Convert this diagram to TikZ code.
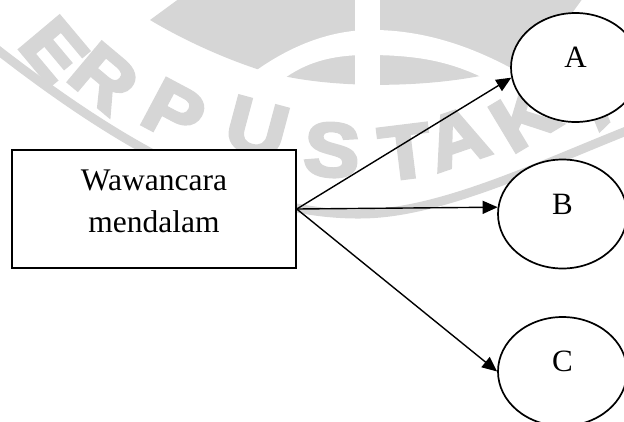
\documentclass[tikz,border=0pt]{standalone}
\usepackage{fontspec}
\setmainfont{Liberation Serif}
\newfontfamily\wmfont{Liberation Sans}[UprightFont=* Bold,FakeBold=4]
\usetikzlibrary{shapes.geometric,arrows.meta}
\definecolor{wm}{HTML}{D6D6D6}
\newcommand\wmwide[1]{\scalebox{1.1}[1]{#1}}
\tikzset{
  wmletter/.style={text=wm,font=\wmfont\fontsize{76}{76}\selectfont,inner sep=0pt},
  mainbox/.style={draw=black,line width=1.5pt,fill=white,minimum width=284pt,minimum height=118pt,inner sep=0pt,
     font=\fontsize{31.5}{42}\selectfont,text height=66pt,text depth=20pt},
  target/.style={ellipse,draw=black,line width=1.7pt,fill=white,minimum width=129pt,minimum height=109pt,inner sep=0pt,
     font=\fontsize{31}{36}\selectfont,text height=14pt,text depth=14pt},
  link/.style={line width=1.4pt,-{Triangle[length=15pt,width=13pt]}}
}
\begin{document}
\begin{tikzpicture}[x=1pt,y=-1pt]
\useasboundingbox (0,0) rectangle (624,421);
\begin{scope}
\clip (0,0) rectangle (624,421);
% logo lens
\fill[wm] (150,20) -- (180,-2) -- (583,-2) .. controls (560,30) .. (512,68)
   .. controls (450,88) and (330,92) .. (260,70) .. controls (220,57) and (180,38) .. (150,20) -- cycle;
% white arch
\fill[white] (250,75) .. controls (290,45) and (330,31) .. (367,30) .. controls (420,29) and (470,45) .. (518,72)
   -- (495,84) .. controls (455,62) and (420,55) .. (367,55) .. controls (330,55) and (305,63) .. (282,80) -- cycle;
\fill[white] (355,-2) rectangle (380,86);
% ring band
\draw[wm,line width=9pt] (-10,44) .. controls (100,130) and (230,215) .. (360,214) .. controls (440,214) and (540,165) .. (634,128);
% letters
\node[wmletter,rotate=-50] (wE) at (54,50) {\wmwide{E}};
\node[wmletter,rotate=-40] (wR) at (104,78) {\wmwide{R}};
\node[wmletter,rotate=-28] (wP) at (174,112) {\wmwide{P}};
\node[wmletter,rotate=-15] (wU) at (257,128) {\wmwide{U}};
\node[wmletter,rotate=-4] (wS) at (332,150) {\wmwide{S}};
\node[wmletter,rotate=7] (wT) at (405,152) {\wmwide{T}};
\node[wmletter,rotate=19] (wA) at (457,138) {\wmwide{A}};
\node[wmletter,rotate=31] (wK) at (524,117) {\wmwide{K}};
\node[wmletter,rotate=44] (wA2) at (602,92) {\wmwide{A}};
\end{scope}
% diagram
\node[mainbox] (box) at (154,209) {\begin{tabular}[b]{@{}c@{}}Wawancara\\mendalam\end{tabular}};
\node[target] (A) at (575.5,67.5) {A};
\node[target] (B) at (562.5,214) {B};
\node[target] (C) at (562.5,371.5) {C};
\draw[link] (box.east) -- (A.189);
\draw[link] (box.east) -- (B.174);
\draw[link] (box.east) -- (C.180);
\end{tikzpicture}
\end{document}
